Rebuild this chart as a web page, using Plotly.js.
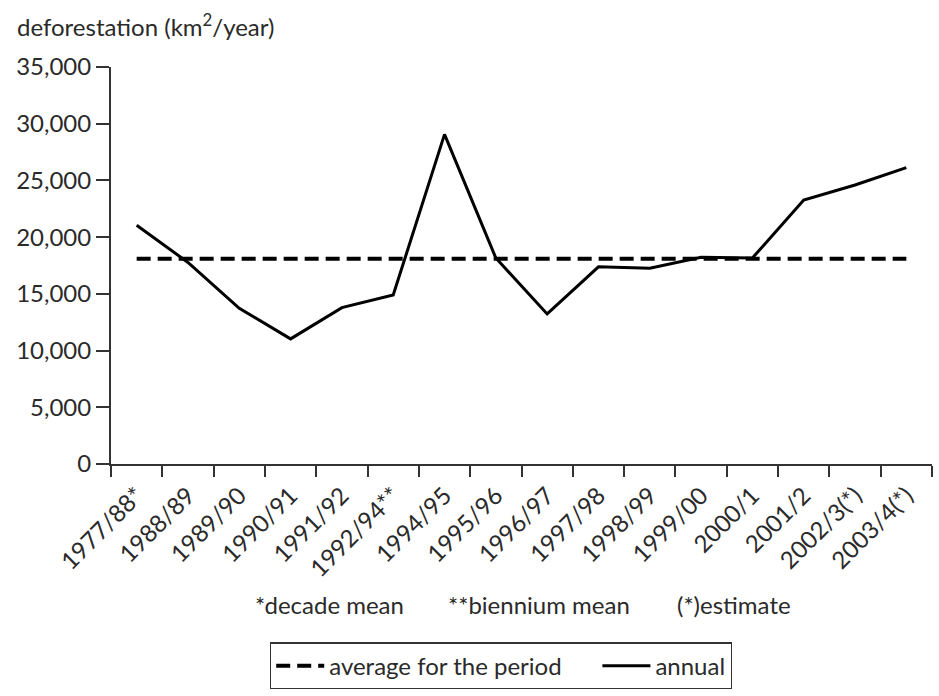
<!DOCTYPE html>
<html>
<head>
<meta charset="utf-8">
<script src="https://cdn.plot.ly/plotly-3.0.1.min.js"></script>
<style>html,body{margin:0;padding:0;background:#fff;}#chart{width:939px;height:696px;}</style>
</head>
<body>
<div id="chart"></div>
<script>
var periods = ["1977/88*","1988/89","1989/90","1990/91","1991/92","1992/94**","1994/95","1995/96","1996/97","1997/98","1998/99","1999/00","2000/1","2001/2","2002/3(*)","2003/4(*)"];
var annual = [21050,17770,13730,11030,13786,14896,29059,18161,13227,17383,17259,18226,18165,23266,24597,26130];
var periodAverage = 18100;
var averageSeries = periods.map(function(){ return periodAverage; });
var yTicks = [0,5000,10000,15000,20000,25000,30000,35000];
var yTickLabels = ["0","5,000","10,000","15,000","20,000","25,000","30,000","35,000"];
var footnotes = ["*decade mean","**biennium mean","(*)estimate"];
var seriesNames = ["average for the period", "annual"];

var FONT = "Lato, 'Open Sans', sans-serif";
var TXT = "#2a2a2a";
var NBSP = "\u00a0";

var traces = [
  {x: periods, y: averageSeries, type: "scatter", mode: "lines", name: seriesNames[0] + NBSP.repeat(5),
   line: {color: "#000", width: 4, dash: "14px,7px"}},
  {x: periods, y: annual, type: "scatter", mode: "lines", name: seriesNames[1],
   line: {color: "#000", width: 3}}
];

var W = 939, H = 696, L = 111, R = 7, T = 67, B = 224;
var pw = W - L - R, ph = H - T - B;
function px(x){ return (x - L) / pw; }
function py(y){ return (H - B - y) / ph; }

var layout = {
  width: W, height: H,
  margin: {l: L, r: R, t: T, b: B},
  paper_bgcolor: "#fff", plot_bgcolor: "#fff",
  font: {family: FONT, color: TXT, size: 24},
  title: {text: "deforestation (km<sup>2</sup>/year)", xref: "container", yref: "container",
          x: 17/W, xanchor: "left", y: 1 - 28/H, yanchor: "middle",
          font: {family: FONT, size: 24, color: TXT}},
  showlegend: true,
  legend: {orientation: "h", x: px(501), xanchor: "center", y: py(654), yanchor: "top",
           bordercolor: "#333", borderwidth: 1.2, font: {size: 24, color: TXT},
           itemwidth: 48, traceorder: "normal", bgcolor: "#fff"},
  xaxis: {type: "category", range: [-0.5, 15.5], showgrid: false, zeroline: false,
          showline: true, linecolor: "#333", linewidth: 2,
          ticks: "outside", tickson: "boundaries", ticklen: 11, tickwidth: 2, tickcolor: "#333",
          tickangle: -45, ticklabelstandoff: 6, tickfont: {size: 24, color: TXT}, fixedrange: true},
  yaxis: {range: [0, 35000], tickvals: yTicks, ticktext: yTickLabels, showgrid: false, zeroline: false,
          showline: true, linecolor: "#333", linewidth: 2,
          ticks: "outside", ticklen: 13, tickwidth: 2, tickcolor: "#333",
          tickfont: {size: 24, color: TXT}, fixedrange: true},
  annotations: [
    {text: footnotes[0], xref: "paper", yref: "paper", x: px(253), y: py(615), xanchor: "left", yanchor: "middle", showarrow: false, font: {size: 24, color: TXT}},
    {text: footnotes[1], xref: "paper", yref: "paper", x: px(446), y: py(615), xanchor: "left", yanchor: "middle", showarrow: false, font: {size: 24, color: TXT}},
    {text: footnotes[2], xref: "paper", yref: "paper", x: px(675), y: py(615), xanchor: "left", yanchor: "middle", showarrow: false, font: {size: 24, color: TXT}}
  ]
};

Plotly.newPlot("chart", traces, layout, {displayModeBar: false, staticPlot: true});
</script>
</body>
</html>
